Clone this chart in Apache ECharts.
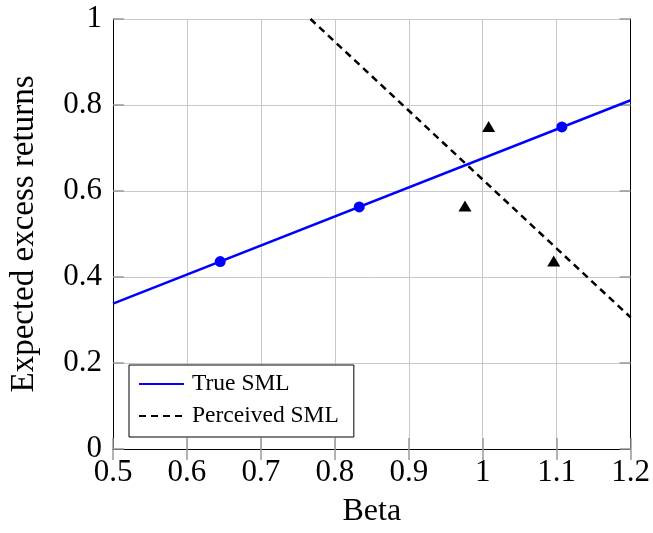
<!DOCTYPE html>
<html>
<head>
<meta charset="utf-8">
<title>Security market line</title>
<script src="https://cdn.jsdelivr.net/npm/echarts@6/dist/echarts.min.js"></script>
<style>
  html, body { margin: 0; padding: 0; background: #fff; }
  #chart { width: 653px; height: 533px; }
</style>
</head>
<body>
<div id="chart"></div>
<script>
// Axis ticks
const betaTicks = [0.5, 0.6, 0.7, 0.8, 0.9, 1.0, 1.1, 1.2];
const returnTicks = [0, 0.2, 0.4, 0.6, 0.8, 1.0];

// True security market line (end points across the beta range)
const trueLineBeta = [0.5, 1.2];
const trueLineReturn = [0.338, 0.811];

// Perceived security market line (end points inside the plot)
const perceivedLineBeta = [0.767, 1.2];
const perceivedLineReturn = [1.0, 0.306];

// Assets at their true betas
const trueBeta = [0.645, 0.833, 1.107];
const assetReturn = [0.436, 0.563, 0.749];

// Same assets at their perceived betas
const perceivedBeta = [1.096, 0.976, 1.008];
const perceivedReturn = [0.437, 0.565, 0.750];

const FONT = 'Liberation Serif';
const zip = (xs, ys) => xs.map((x, i) => [x, ys[i]]);

const tickStyle = { show: true, inside: true, length: 11, lineStyle: { color: '#999', width: 1.5 } };
const frameLine = { show: true, lineStyle: { color: '#000', width: 1 } };

const chart = echarts.init(document.getElementById('chart'), null, { renderer: 'canvas' });
chart.setOption({
  animation: false,
  backgroundColor: '#fff',
  grid: { left: 113, top: 19, right: 22, bottom: 84, containLabel: false },
  xAxis: [
    {
      type: 'value',
      min: betaTicks[0], max: betaTicks[betaTicks.length - 1], interval: 0.1,
      name: 'Beta', nameLocation: 'middle', nameGap: 47,
      nameTextStyle: { fontFamily: FONT, fontSize: 32, color: '#000' },
      axisLine: frameLine, axisTick: tickStyle,
      axisLabel: { fontFamily: FONT, fontSize: 31, color: '#000', margin: 8 },
      splitLine: { show: true, lineStyle: { color: '#c8c8c8', width: 1 } }
    },
    {
      type: 'value', position: 'top',
      min: betaTicks[0], max: betaTicks[betaTicks.length - 1], interval: 0.1,
      axisLine: frameLine, axisTick: tickStyle,
      axisLabel: { show: false }, splitLine: { show: false }
    }
  ],
  yAxis: [
    {
      type: 'value',
      min: returnTicks[0], max: returnTicks[returnTicks.length - 1], interval: 0.2,
      name: 'Expected excess returns', nameLocation: 'middle', nameGap: 72, nameRotate: 90,
      nameTextStyle: { fontFamily: FONT, fontSize: 33, color: '#000' },
      axisLine: frameLine, axisTick: tickStyle,
      axisLabel: { fontFamily: FONT, fontSize: 31, color: '#000', margin: 11 },
      splitLine: { show: true, lineStyle: { color: '#c8c8c8', width: 1 } }
    },
    {
      type: 'value', position: 'right',
      min: returnTicks[0], max: returnTicks[returnTicks.length - 1], interval: 0.2,
      axisLine: frameLine, axisTick: tickStyle,
      axisLabel: { show: false }, splitLine: { show: false }
    }
  ],
  legend: {
    data: ['True SML', 'Perceived SML'],
    orient: 'vertical',
    left: 129, top: 365,
    padding: [7, 15, 9, 9],
    itemWidth: 45, itemHeight: 14, itemGap: 8,
    borderColor: '#000', borderWidth: 1, backgroundColor: '#fff',
    itemStyle: { opacity: 0 },
    textStyle: { fontFamily: FONT, fontSize: 23.5, color: '#000', padding: [0, 0, 0, 3] }
  },
  series: [
    {
      name: 'True SML', type: 'line', symbol: 'none',
      data: zip(trueLineBeta, trueLineReturn),
      lineStyle: { color: '#0000ff', width: 2.5 }, itemStyle: { color: '#0000ff' },
      z: 3
    },
    {
      name: 'Perceived SML', type: 'line', symbol: 'none',
      data: zip(perceivedLineBeta, perceivedLineReturn),
      lineStyle: { color: '#000', width: 2.5, type: [7, 5] }, itemStyle: { color: '#000' },
      z: 3
    },
    {
      name: 'Assets (true beta)', type: 'scatter', symbol: 'circle', symbolSize: 11,
      data: zip(trueBeta, assetReturn),
      itemStyle: { color: '#0000ff', opacity: 1 }, z: 4
    },
    {
      name: 'Assets (perceived beta)', type: 'scatter', symbol: 'triangle', symbolSize: [13, 11],
      data: zip(perceivedBeta, perceivedReturn),
      itemStyle: { color: '#000', opacity: 1 }, z: 4
    }
  ]
});
</script>
</body>
</html>
